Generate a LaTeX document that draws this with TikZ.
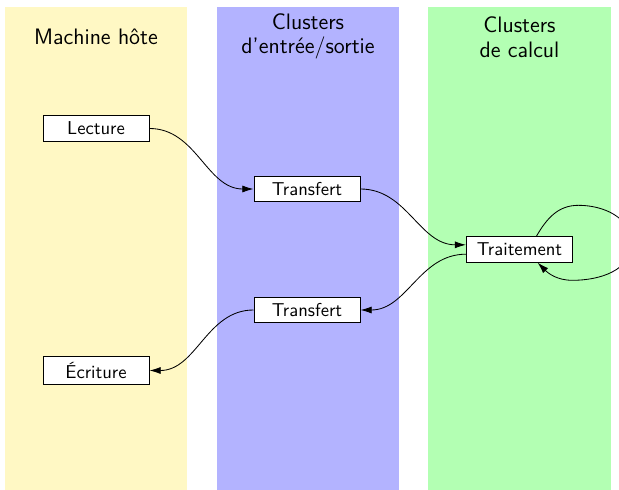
\documentclass[tikz,border=0pt]{standalone}
\usetikzlibrary{arrows.meta}
\definecolor{colyellow}{RGB}{255,248,196}
\definecolor{colblue}{RGB}{179,179,255}
\definecolor{colgreen}{RGB}{179,255,179}
\begin{document}
\begin{tikzpicture}[x=0.5365pt,y=0.5365pt,
  stepbox/.style={draw, fill=white, line width=0.5pt, minimum width=2cm, inner sep=3.33pt, font=\sffamily},
  coltitle/.style={anchor=base, font=\sffamily\fontsize{12}{14}\selectfont, inner sep=0pt},
  arr/.style={-{Latex[length=6pt,width=3.8pt]}, line width=0.45pt}]
\useasboundingbox (0,0) rectangle (619,-490);
% columns
\fill[colyellow] (5,-7) rectangle (187,-495);
\fill[colblue] (217,-7) rectangle (399,-495);
\fill[colgreen] (428,-7) rectangle (611,-495);
% titles
\node[coltitle] (t1) at (96,-45) {Machine hôte};
\node[coltitle] (t2a) at (308,-30) {Clusters};
\node[coltitle] (t2b) at (308,-53.5) {d'entrée/sortie};
\node[coltitle] (t3a) at (519.5,-33) {Clusters};
\node[coltitle] (t3b) at (519.5,-58) {de calcul};
% steps
\node[stepbox] (lec) at (96,-128.5) {Lecture};
\node[stepbox] (tr1) at (307,-189) {Transfert};
\node[stepbox] (trt) at (519.5,-249.5) {Traitement};
\node[stepbox] (tr2) at (307,-310) {Transfert};
\node[stepbox] (ecr) at (96,-370.5) {Écriture};
% connectors
\draw[arr] (lec.east) to[out=0,in=180] (tr1.west);
\draw[arr] (tr1.east) to[out=0,in=180] (trt.175);
\draw[arr] (trt.185) to[out=180,in=0] (tr2.east);
\draw[arr] (tr2.west) to[out=180,in=0] (ecr.east);
\draw[arr] (trt.38) to[out=60,in=180] ++(42,31)
  to[out=0,in=90] ++(53,-38)
  to[out=-90,in=0] ++(-59,-37)
  to[out=180,in=-45] (trt.-36);
\end{tikzpicture}
\end{document}
